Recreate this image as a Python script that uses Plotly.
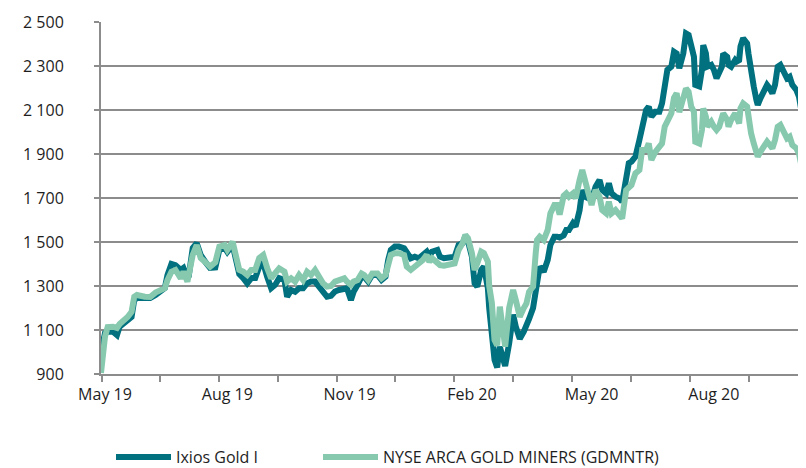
import pandas as pd
import plotly.graph_objects as go

# ---------------- data ----------------
base_date = "2019-05-01"
# calendar-day offsets from base_date
day_offset = [
    -3, 0, 2, 6, 9, 11, 17, 20, 22, 24, 30, 34, 38, 41, 45, 47, 50, 53, 55, 57,
    59, 62, 63, 66, 69, 72, 76, 79, 83, 86, 90, 92, 96, 98, 101, 104, 107, 110, 113, 116,
    119, 122, 125, 128, 131, 135, 137, 140, 143, 146, 149, 152, 155, 158, 161, 164, 167, 170, 173, 176,
    180, 182, 185, 187, 190, 193, 195, 198, 201, 205, 208, 211, 213, 215, 218, 221, 225, 227, 230, 233,
    236, 239, 242, 244, 246, 250, 252, 255, 259, 263, 266, 269, 271, 273, 276, 278, 280, 283, 285, 288,
    289, 291, 293, 295, 297, 299, 301, 304, 307, 309, 312, 315, 317, 319, 322, 324, 325, 327, 330, 333,
    335, 338, 340, 342, 345, 347, 349, 352, 354, 357, 359, 361, 364, 366, 369, 372, 374, 377, 379, 381,
    384, 387, 389, 392, 394, 396, 399, 402, 404, 407, 409, 411, 414, 417, 419, 421, 423, 426, 428, 430,
    432, 435, 437, 439, 441, 443, 444, 447, 449, 450, 452, 453, 456, 458, 460, 462, 464, 465, 468, 469,
    471, 474, 475, 477, 478, 480, 483, 484, 486, 488, 490, 491, 493, 496, 498, 500, 502, 504, 506, 508,
    511, 513, 515, 517, 520, 522, 524, 526,
]

ixios_gold = [
    1000, 1086, 1092, 1092, 1077, 1115, 1145, 1160, 1236, 1245, 1245, 1245, 1259, 1274, 1291, 1350, 1400, 1395, 1380, 1373,
    1382, 1336, 1345, 1473, 1494, 1441, 1405, 1382, 1384, 1464, 1473, 1455, 1486, 1427, 1355, 1336, 1312, 1336, 1336, 1388,
    1405, 1342, 1290, 1305, 1336, 1327, 1251, 1282, 1274, 1290, 1290, 1312, 1320, 1320, 1297, 1274, 1251, 1255, 1275, 1282,
    1290, 1290, 1236, 1274, 1305, 1342, 1342, 1320, 1350, 1350, 1327, 1342, 1418, 1464, 1479, 1479, 1471, 1456, 1426, 1433,
    1426, 1441, 1456, 1433, 1456, 1464, 1433, 1426, 1433, 1433, 1486, 1494, 1524, 1505, 1433, 1312, 1297, 1373, 1388, 1290,
    1200, 1100, 964, 930, 1024, 979, 937, 1039, 1170, 1115, 1060, 1092, 1132, 1150, 1200, 1282, 1327, 1388, 1365, 1418,
    1486, 1524, 1524, 1520, 1530, 1555, 1555, 1585, 1570, 1645, 1736, 1706, 1698, 1691, 1751, 1782, 1736, 1721, 1767, 1721,
    1706, 1698, 1683, 1782, 1858, 1865, 1888, 1964, 2009, 2100, 2115, 2070, 2092, 2092, 2130, 2221, 2282, 2297, 2365, 2357,
    2290, 2357, 2448, 2441, 2373, 2342, 2214, 2207, 2282, 2395, 2357, 2297, 2305, 2282, 2244, 2267, 2297, 2357, 2342, 2305,
    2297, 2327, 2320, 2327, 2388, 2426, 2403, 2357, 2267, 2207, 2145, 2123, 2153, 2198, 2214, 2198, 2176, 2214, 2297, 2305,
    2274, 2244, 2251, 2214, 2191, 2161, 2092, 2085,
]

gold_miners = [
    905, 1070, 1113, 1115, 1109, 1127, 1159, 1183, 1251, 1259, 1251, 1250, 1270, 1282, 1290, 1327, 1365, 1373, 1357, 1335,
    1365, 1320, 1350, 1441, 1486, 1427, 1405, 1388, 1408, 1479, 1486, 1464, 1501, 1441, 1373, 1365, 1350, 1373, 1373, 1427,
    1441, 1382, 1335, 1359, 1380, 1365, 1320, 1335, 1320, 1350, 1327, 1365, 1350, 1373, 1342, 1312, 1297, 1300, 1320, 1327,
    1335, 1320, 1305, 1320, 1327, 1357, 1350, 1327, 1357, 1357, 1335, 1350, 1403, 1441, 1449, 1449, 1441, 1388, 1373, 1388,
    1395, 1418, 1441, 1410, 1426, 1410, 1395, 1392, 1395, 1403, 1464, 1494, 1532, 1517, 1449, 1373, 1403, 1456, 1449, 1410,
    1300, 1223, 1055, 1030, 1206, 1100, 1024, 1200, 1282, 1236, 1160, 1200, 1221, 1274, 1297, 1450, 1509, 1524, 1509, 1555,
    1630, 1668, 1668, 1625, 1710, 1721, 1706, 1721, 1698, 1782, 1827, 1782, 1714, 1668, 1736, 1706, 1645, 1630, 1683, 1630,
    1645, 1623, 1607, 1736, 1744, 1759, 1812, 1827, 1918, 1918, 1948, 1873, 1910, 1933, 1948, 2024, 2055, 2085, 2155, 2176,
    2090, 2145, 2198, 2183, 2115, 2092, 1956, 1948, 2009, 2107, 2070, 2024, 2047, 2024, 2009, 2024, 2055, 2085, 2055, 2024,
    2055, 2085, 2070, 2039, 2107, 2130, 2115, 2070, 1994, 1948, 1903, 1888, 1910, 1941, 1956, 1941, 1926, 1964, 2024, 2032,
    1994, 1971, 1979, 1941, 1926, 1903, 1842, 1827,
]

series_names = ["Ixios Gold I", "NYSE ARCA GOLD MINERS (GDMNTR)"]

x_label_dates = ["2019-05-01", "2019-08-01", "2019-11-01", "2020-02-01", "2020-05-01", "2020-08-01"]
x_tick_mark_dates = [
    "2019-04-28 12:00", "2019-06-11 07:00", "2019-07-25 19:00", "2019-09-08 02:00",
    "2019-10-22 10:00", "2019-12-05 12:00", "2020-01-18 19:00", "2020-03-03 02:00",
    "2020-04-16 10:00", "2020-05-30 17:00", "2020-07-14 00:00", "2020-08-27 07:00",
]
x_range = ["2019-04-28", "2020-10-09 07:00"]
y_range = [900, 2500]

# ---------------- figure ----------------
dates = pd.Timestamp(base_date) + pd.to_timedelta(day_offset, unit="D")

DARK = "#01717F"
LIGHT = "#87C9AF"
GRID = "#8C8C8C"
TEXT = "#1E1E1E"
FONT = "Open Sans"

# the page body adds an 8 px offset, so the figure is 8 px smaller
W, H = 798, 460
ML, MR, MT, MB = 93, 0, 14, 94
PW, PH = W - ML - MR, H - MT - MB

fig = go.Figure()
fig.add_trace(go.Scatter(x=dates, y=ixios_gold, mode="lines", name=series_names[0],
                         line=dict(color=DARK, width=6), legend="legend"))
fig.add_trace(go.Scatter(x=dates, y=gold_miners, mode="lines", name=series_names[1],
                         line=dict(color=LIGHT, width=6), legend="legend2"))

legend_common = dict(orientation="h", xanchor="left", yanchor="middle",
                     y=-(449 - (H - MB)) / PH,
                     font=dict(family=FONT, size=16, color=TEXT),
                     bgcolor="rgba(0,0,0,0)", borderwidth=0, itemwidth=55)

fig.update_layout(
    width=W, height=H,
    margin=dict(l=ML, r=MR, t=MT, b=MB, autoexpand=False),
    paper_bgcolor="white", plot_bgcolor="white",
    font=dict(family=FONT, size=16, color=TEXT),
    separators=". ",
    showlegend=True,
    legend=dict(x=(103 - ML) / PW, **legend_common),
    legend2=dict(x=(310 - ML) / PW, **legend_common),
)

fig.update_xaxes(
    type="date", range=x_range, automargin=False,
    tickmode="array", tickvals=x_label_dates, tickformat="%b %y",
    ticks="", showgrid=False, zeroline=False,
    showline=True, linecolor=GRID, linewidth=2,
    ticklabelstandoff=5,
    tickfont=dict(family=FONT, size=16, color=TEXT),
    minor=dict(tickmode="array", tickvals=x_tick_mark_dates, ticks="outside",
               ticklen=6, tickwidth=2, tickcolor=GRID, showgrid=False),
)

fig.update_yaxes(
    range=y_range, automargin=False, tickmode="linear", tick0=900, dtick=200,
    tickformat=",d", separatethousands=True,
    showgrid=True, gridcolor=GRID, gridwidth=2,
    zeroline=False, showline=True, linecolor=GRID, linewidth=2,
    ticks="outside", ticklen=5, tickwidth=2, tickcolor=GRID,
    ticklabelstandoff=27,
    tickfont=dict(family=FONT, size=16, color=TEXT),
)

fig.write_html("out.html")
